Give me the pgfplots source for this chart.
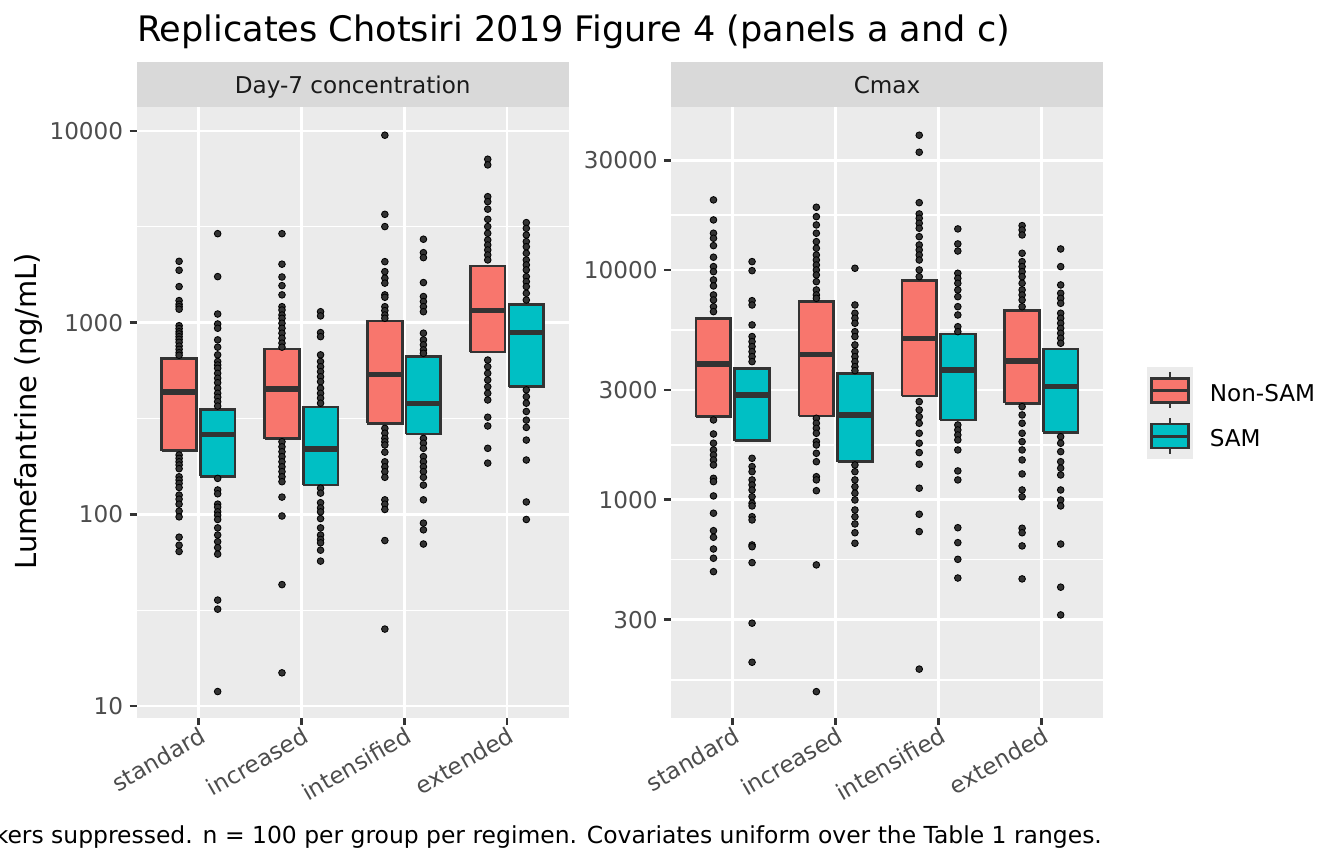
\documentclass[border=0pt]{standalone}
\usepackage{pgfplots}
\pgfplotsset{compat=1.18}
\usepackage{fontspec}
\setmainfont{DejaVu Sans}
\definecolor{nsam}{HTML}{F8766D}
\definecolor{sam}{HTML}{00BFC4}
\definecolor{g20}{HTML}{333333}
\definecolor{g30}{HTML}{4D4D4D}
\definecolor{g10}{HTML}{1A1A1A}
\definecolor{panelbg}{HTML}{EBEBEB}
\definecolor{stripbg}{HTML}{D9D9D9}
\newcommand{\bx}[6]{%
  \addplot[draw=g20, line width=1.3pt, line join=miter, fill=#6] coordinates {(#1,#3) (#2,#3) (#2,#5) (#1,#5) (#1,#3)};
  \addplot[draw=g20, line width=2.5pt] coordinates {(#1,#4) (#2,#4)};
}
\pgfplotsset{
  pts/.style={only marks, mark=*, mark size=1.6pt, mark options={draw=none, fill=g20}},
  facet/.style={
    scale only axis, width=207.4pt, height=293.3pt, anchor=south west,
    xmin=0.4, xmax=4.6,
    axis background/.style={fill=panelbg},
    axis line style={draw=none},
    xtick={1,2,3,4}, xticklabels={standard,increased,intensified,extended},
    tick align=outside, tick pos=left,
    major tick length=3.4pt, minor tick length=0pt,
    major tick style={draw=g20, line width=1.3pt},
    grid=both,
    major grid style={white, line width=1.3pt},
    minor grid style={white, line width=0.65pt},
    tick label style={font=\fontsize{11.1}{13}\selectfont, text=g30},
    yticklabel style={anchor=east, inner sep=0pt, xshift=-2.9pt},
    xticklabel style={rotate=30, anchor=north east, inner sep=0pt},
  }
}
\begin{document}
\begin{tikzpicture}
\useasboundingbox (0,0) rectangle (645.12pt,414.72pt);
% ---------------- Day-7 concentration ----------------
\begin{axis}[ymode=log, facet, name=left, at={(65.6pt,70.08pt)},
  /pgf/number format/assume math mode=true,
  ymin=8.66, ymax=13340,
  ytick={10,100,1000,10000}, yticklabels={10,100,1000,10000},
  minor ytick={31.62,316.2,3162}]
\addplot[pts] coordinates {(0.8125,2089)(0.8125,1876)(0.8125,1542)(0.8125,1303)(0.8125,1247)(0.8125,1211)(0.8125,1175)(0.8125,964)(0.8125,931)(0.8125,897)(0.8125,873)(0.8125,845)(0.8125,818)(0.8125,790)(0.8125,755)(0.8125,726)(0.8125,697)(0.8125,676)
(0.8125,204)(0.8125,196)(0.8125,188)(0.8125,181)(0.8125,173)(0.8125,157)(0.8125,151)(0.8125,145)(0.8125,138)(0.8125,126)(0.8125,120)(0.8125,113)(0.8125,104)(0.8125,97)(0.8125,76)(0.8125,69)(0.8125,64)};
\addplot[pts] coordinates {(1.1875,2911)(1.1875,1738)(1.1875,1109)(1.1875,984)(1.1875,935)(1.1875,813)(1.1875,745)(1.1875,679)(1.1875,627)(1.1875,601)(1.1875,578)(1.1875,544)(1.1875,513)(1.1875,486)(1.1875,455)(1.1875,428)(1.1875,408)(1.1875,387)(1.1875,367)
(1.1875,154)(1.1875,134)(1.1875,128)(1.1875,113)(1.1875,109)(1.1875,103)(1.1875,99)(1.1875,94)(1.1875,85)(1.1875,78)(1.1875,72)(1.1875,67)(1.1875,62)(1.1875,35.7)(1.1875,32)(1.1875,11.9)};
\addplot[pts] coordinates {(1.8125,2911)(1.8125,2018)(1.8125,1730)(1.8125,1560)(1.8125,1396)(1.8125,1211)(1.8125,1164)(1.8125,1096)(1.8125,1054)(1.8125,993)(1.8125,935)(1.8125,881)(1.8125,830)(1.8125,782)(1.8125,745)
(1.8125,239)(1.8125,225)(1.8125,212)(1.8125,200)(1.8125,188)(1.8125,177)(1.8125,167)(1.8125,157)(1.8125,148)(1.8125,123)(1.8125,98)(1.8125,43)(1.8125,14.9)};
\addplot[pts] coordinates {(2.1875,1140)(2.1875,1084)(2.1875,887)(2.1875,845)(2.1875,679)(2.1875,627)(2.1875,589)(2.1875,555)(2.1875,522)(2.1875,492)(2.1875,455)(2.1875,428)(2.1875,404)(2.1875,380)
(2.1875,137)(2.1875,129)(2.1875,115)(2.1875,108)(2.1875,103)(2.1875,95)(2.1875,85)(2.1875,78)(2.1875,74)(2.1875,71)(2.1875,65)(2.1875,57)};
\addplot[pts] coordinates {(2.8125,9500)(2.8125,3673)(2.8125,3170)(2.8125,2080)(2.8125,1845)(2.8125,1706)(2.8125,1607)(2.8125,1396)(2.8125,1356)(2.8125,1211)(2.8125,1155)(2.8125,1096)(2.8125,1054)
(2.8125,281)(2.8125,265)(2.8125,249)(2.8125,239)(2.8125,230)(2.8125,211)(2.8125,188)(2.8125,177)(2.8125,167)(2.8125,156)(2.8125,119)(2.8125,113)(2.8125,106)(2.8125,73)(2.8125,25.2)};
\addplot[pts] coordinates {(3.1875,2723)(3.1875,2317)(3.1875,2183)(3.1875,1618)(3.1875,1368)(3.1875,1288)(3.1875,1211)(3.1875,1140)(3.1875,881)(3.1875,813)(3.1875,766)(3.1875,721)(3.1875,692)
(3.1875,249)(3.1875,235)(3.1875,221)(3.1875,200)(3.1875,188)(3.1875,177)(3.1875,167)(3.1875,156)(3.1875,142)(3.1875,119)(3.1875,90)(3.1875,83)(3.1875,70)};
\addplot[pts] coordinates {(3.8125,7120)(3.8125,6650)(3.8125,4540)(3.8125,4276)(3.8125,3908)(3.8125,3460)(3.8125,3170)(3.8125,2924)(3.8125,2698)(3.8125,2541)(3.8125,2393)(3.8125,2254)(3.8125,2123)
(3.8125,638)(3.8125,589)(3.8125,544)(3.8125,502)(3.8125,463)(3.8125,428)(3.8125,395)(3.8125,321)(3.8125,289)(3.8125,221)(3.8125,185)};
\addplot[pts] coordinates {(4.1875,3325)(4.1875,3105)(4.1875,2866)(4.1875,2648)(4.1875,2489)(4.1875,2301)(4.1875,2123)(4.1875,2000)(4.1875,1884)(4.1875,1738)(4.1875,1637)(4.1875,1542)(4.1875,1422)(4.1875,1312)
(4.1875,446)(4.1875,411)(4.1875,380)(4.1875,344)(4.1875,310)(4.1875,284)(4.1875,244)(4.1875,192)(4.1875,116)(4.1875,94)};
\bx{0.64375}{0.98125}{215}{435}{652}{nsam}
\bx{1.01875}{1.35625}{158}{260}{353}{sam}
\bx{1.64375}{1.98125}{248}{451}{729}{nsam}
\bx{2.01875}{2.35625}{142}{219}{363}{sam}
\bx{2.64375}{2.98125}{299}{538}{1020}{nsam}
\bx{3.01875}{3.35625}{262}{380}{665}{sam}
\bx{3.64375}{3.98125}{703}{1155}{1977}{nsam}
\bx{4.01875}{4.35625}{463}{887}{1247}{sam}
\end{axis}
% ---------------- Cmax ----------------
\begin{axis}[ymode=log, facet, name=right, at={(322.1pt,70.08pt)},
  /pgf/number format/assume math mode=true,
  ymin=112.1, ymax=51240,
  ytick={300,1000,3000,10000,30000}, yticklabels={300,1000,3000,10000,30000},
  minor ytick={164.3,547.7,1732,5477,17320}]
\addplot[pts] coordinates {(0.8125,20180)(0.8125,16510)(0.8125,14450)(0.8125,13740)(0.8125,12760)(0.8125,11360)(0.8125,10340)(0.8125,9830)(0.8125,9050)(0.8125,8520)(0.8125,7785)(0.8125,7400)(0.8125,6920)(0.8125,6583)
(0.8125,2223)(0.8125,1932)(0.8125,1761)(0.8125,1646)(0.8125,1565)(0.8125,1489)(0.8125,1416)(0.8125,1239)(0.8125,1198)(0.8125,1038)(0.8125,873)(0.8125,733)(0.8125,686)(0.8125,610)(0.8125,556)(0.8125,486)};
\addplot[pts] coordinates {(1.1875,10870)(1.1875,9930)(1.1875,7350)(1.1875,7040)(1.1875,5763)(1.1875,5128)(1.1875,4875)(1.1875,4636)(1.1875,4407)(1.1875,4194)(1.1875,3990)
(1.1875,1514)(1.1875,1393)(1.1875,1324)(1.1875,1219)(1.1875,1159)(1.1875,1102)(1.1875,1030)(1.1875,965)(1.1875,939)(1.1875,843)(1.1875,816)(1.1875,635)(1.1875,624)(1.1875,532)(1.1875,290)(1.1875,196)};
\addplot[pts] coordinates {(1.8125,18750)(1.8125,17060)(1.8125,15700)(1.8125,14450)(1.8125,13280)(1.8125,12430)(1.8125,11620)(1.8125,11050)(1.8125,10510)(1.8125,10000)(1.8125,9510)(1.8125,8894)(1.8125,8185)(1.8125,7785)(1.8125,7530)
(1.8125,2261)(1.8125,2151)(1.8125,2046)(1.8125,1946)(1.8125,1789)(1.8125,1730)(1.8125,1592)(1.8125,1463)(1.8125,1259)(1.8125,1219)(1.8125,1094)(1.8125,520)(1.8125,146)};
\addplot[pts] coordinates {(2.1875,10170)(2.1875,7040)(2.1875,6479)(2.1875,6166)(2.1875,5861)(2.1875,5388)(2.1875,5128)(2.1875,4716)(2.1875,4410)(2.1875,4194)(2.1875,3990)(2.1875,3793)(2.1875,3646)
(2.1875,1416)(2.1875,1324)(2.1875,1219)(2.1875,1139)(2.1875,1067)(2.1875,997)(2.1875,902)(2.1875,843)(2.1875,784)(2.1875,718)(2.1875,646)};
\addplot[pts] coordinates {(2.8125,38590)(2.8125,32540)(2.8125,19630)(2.8125,17530)(2.8125,16790)(2.8125,15970)(2.8125,15190)(2.8125,13960)(2.8125,12850)(2.8125,12220)(2.8125,11620)(2.8125,11050)(2.8125,10000)(2.8125,9350)
(2.8125,2671)(2.8125,2458)(2.8125,2298)(2.8125,2151)(2.8125,1946)(2.8125,1761)(2.8125,1603)(2.8125,1426)(2.8125,1122)(2.8125,864)(2.8125,726)(2.8125,183)};
\addplot[pts] coordinates {(3.1875,15090)(3.1875,12980)(3.1875,12090)(3.1875,9674)(3.1875,9200)(3.1875,8750)(3.1875,8185)(3.1875,7650)(3.1875,6920)(3.1875,6368)(3.1875,5662)(3.1875,5388)
(3.1875,2114)(3.1875,2011)(3.1875,1913)(3.1875,1820)(3.1875,1646)(3.1875,1334)(3.1875,1219)(3.1875,755)(3.1875,650)(3.1875,550)(3.1875,456)};
\addplot[pts] coordinates {(3.8125,15590)(3.8125,14930)(3.8125,14200)(3.8125,11820)(3.8125,10870)(3.8125,10340)(3.8125,9830)(3.8125,9350)(3.8125,8750)(3.8125,8185)(3.8125,7785)(3.8125,7400)(3.8125,6920)
(3.8125,2541)(3.8125,2338)(3.8125,2151)(3.8125,1946)(3.8125,1789)(3.8125,1646)(3.8125,1489)(3.8125,1294)(3.8125,1102)(3.8125,1030)(3.8125,751)(3.8125,718)(3.8125,629)(3.8125,452)};
\addplot[pts] coordinates {(4.1875,12340)(4.1875,10340)(4.1875,8604)(4.1875,7916)(4.1875,7530)(4.1875,7160)(4.1875,6479)(4.1875,6166)(4.1875,5861)(4.1875,5572)(4.1875,5302)(4.1875,5046)(4.1875,4797)
(4.1875,1881)(4.1875,1761)(4.1875,1618)(4.1875,1463)(4.1875,1371)(4.1875,1281)(4.1875,1102)(4.1875,997)(4.1875,939)(4.1875,641)(4.1875,416)(4.1875,315)};
\bx{0.64375}{0.98125}{2297}{3897}{6163}{nsam}
\bx{1.01875}{1.35625}{1806}{2855}{3733}{sam}
\bx{1.64375}{1.98125}{2312}{4296}{7278}{nsam}
\bx{2.01875}{2.35625}{1464}{2338}{3548}{sam}
\bx{2.64375}{2.98125}{2829}{5040}{8985}{nsam}
\bx{3.01875}{3.35625}{2223}{3670}{5265}{sam}
\bx{3.64375}{3.98125}{2630}{4017}{6650}{nsam}
\bx{4.01875}{4.35625}{1965}{3105}{4530}{sam}
\end{axis}
% strips
\fill[stripbg] (65.6pt,363.4pt) rectangle (273.0pt,385.0pt);
\fill[stripbg] (322.1pt,363.4pt) rectangle (529.5pt,385.0pt);
\node[anchor=base, inner sep=0pt, text=g10, font=\fontsize{11.1}{13}\selectfont] at (169.3pt,369.9pt) {Day-7 concentration};
\node[anchor=base, inner sep=0pt, text=g10, font=\fontsize{11.1}{13}\selectfont] at (425.8pt,369.9pt) {Cmax};
% title
\node[anchor=base west, inner sep=0pt, font=\fontsize{16.85}{20}\selectfont] at (65.6pt,394.7pt) {Replicates Chotsiri 2019 Figure 4 (panels a and c)};
% y axis title
\node[anchor=base, rotate=90, inner sep=0pt, font=\fontsize{13.9}{16}\selectfont] at (17.6pt,217.4pt) {Lumefantrine (ng/mL)};
% legend
\fill[panelbg] (550.4pt,194.3pt) rectangle (572.5pt,238.7pt);
\draw[g20, line width=1.1pt] (561.6pt,236.0pt) -- (561.6pt,218.7pt);
\filldraw[draw=g20, fill=nsam, line width=1.2pt] (552.8pt,221.6pt) rectangle (570.4pt,233.1pt);
\draw[g20, line width=1.6pt] (552.8pt,227.4pt) -- (570.4pt,227.4pt);
\draw[g20, line width=1.1pt] (561.6pt,214.0pt) -- (561.6pt,196.7pt);
\filldraw[draw=g20, fill=sam, line width=1.2pt] (552.8pt,199.6pt) rectangle (570.4pt,211.1pt);
\draw[g20, line width=1.6pt] (552.8pt,205.3pt) -- (570.4pt,205.3pt);
\node[anchor=base west, inner sep=0pt, font=\fontsize{11.1}{13}\selectfont] at (580.5pt,222.2pt) {Non-SAM};
\node[anchor=base west, inner sep=0pt, font=\fontsize{11.1}{13}\selectfont] at (580.5pt,200.2pt) {SAM};
% caption
\node[anchor=base east, inner sep=0pt, font=\fontsize{11.25}{13}\selectfont] at (529.1pt,9.9pt) {Whiskers suppressed. n = 100 per group per regimen. Covariates uniform over the Table 1 ranges.};
\end{tikzpicture}
\end{document}
